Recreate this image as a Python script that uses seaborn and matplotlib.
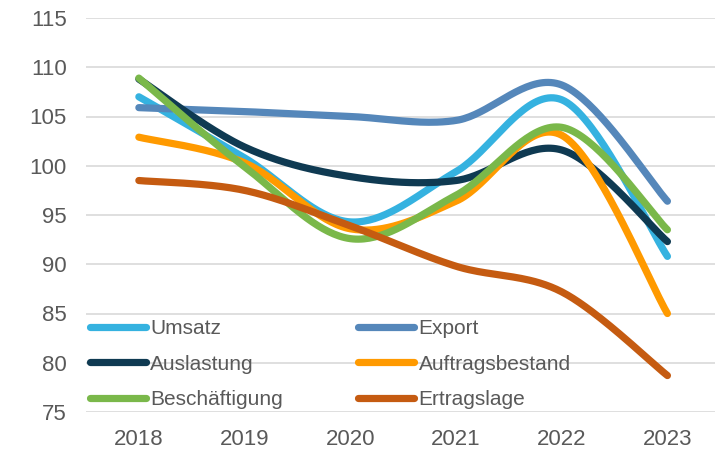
import numpy as np
import pandas as pd
import seaborn as sns
import matplotlib.pyplot as plt
from matplotlib.lines import Line2D

# Werte je Jahr (Index)
years = ['2018', '2019', '2020', '2021', '2022', '2023']
umsatz = [107.0, 100.8, 94.3, 99.4, 106.7, 90.8]
export = [105.9, 105.5, 105.0, 104.6, 108.2, 96.4]
auslastung = [108.8, 101.9, 98.9, 98.5, 101.6, 92.3]
auftragsbestand = [102.9, 100.3, 93.6, 96.4, 103.1, 85.0]
beschaeftigung = [108.9, 99.9, 92.6, 97.0, 103.9, 93.5]
ertragslage = [98.5, 97.5, 93.9, 89.8, 87.2, 78.7]

series = {
    'Umsatz': umsatz,
    'Export': export,
    'Auslastung': auslastung,
    'Auftragsbestand': auftragsbestand,
    'Beschäftigung': beschaeftigung,
    'Ertragslage': ertragslage,
}
colors = {
    'Umsatz': '#35b2e0',
    'Export': '#5587ba',
    'Auslastung': '#0f3a52',
    'Auftragsbestand': '#ff9a00',
    'Beschäftigung': '#7ab84a',
    'Ertragslage': '#c55b11',
}


def smooth(xs, ys, n=40):
    # Excel-like smoothed line (Catmull-Rom as cubic Bezier)
    p = np.column_stack([xs, ys]).astype(float)
    out = []
    for i in range(len(p) - 1):
        p0 = p[i - 1] if i > 0 else p[i]
        p1, p2 = p[i], p[i + 1]
        p3 = p[i + 2] if i + 2 < len(p) else p[i + 1]
        c1 = p1 + (p2 - p0) / 6
        c2 = p2 - (p3 - p1) / 6
        t = np.linspace(0, 1, n)[:, None]
        seg = ((1 - t) ** 3) * p1 + 3 * ((1 - t) ** 2) * t * c1 + 3 * (1 - t) * t ** 2 * c2 + t ** 3 * p2
        out.append(seg if i == 0 else seg[1:])
    return np.vstack(out)


rows = []
for name, vals in series.items():
    curve = smooth(np.arange(len(years)), vals)
    for k, (x, y) in enumerate(curve):
        rows.append({'x': x, 'value': y, 'series': name, 'k': k})
df = pd.DataFrame(rows)

sns.set_style('white')
plt.rcParams['font.family'] = ['Liberation Sans', 'DejaVu Sans']

fig = plt.figure(figsize=(7.15, 4.54), dpi=100)
ax = fig.add_axes([86 / 715, 42 / 454, 629 / 715, 394 / 454])

sns.lineplot(data=df, x='x', y='value', hue='series', palette=colors, sort=False,
             estimator=None, units='series', linewidth=5.2, legend=False, ax=ax)
for ln in ax.get_lines():
    ln.set_solid_capstyle('round')
    ln.set_solid_joinstyle('round')

ax.set_xlim(-0.5, 5.45)
ax.set_ylim(75, 115)
ax.set_yticks(range(75, 116, 5))
ax.set_xticks(range(len(years)))
ax.set_xticklabels(years)
ax.yaxis.grid(True, color='#d9d9d9', linewidth=1.2)
ax.set_axisbelow(True)
for s in ax.spines.values():
    s.set_visible(False)
ax.tick_params(axis='both', length=0, labelsize=16, labelcolor='#595959')
ax.tick_params(axis='y', pad=14)
ax.tick_params(axis='x', pad=12)
ax.set_xlabel('')
ax.set_ylabel('')

order = ['Umsatz', 'Auslastung', 'Beschäftigung', 'Export', 'Auftragsbestand', 'Ertragslage']
handles = [Line2D([0], [0], color=colors[n], linewidth=5.2, solid_capstyle='round') for n in order]
fig.legend(handles, order, loc='upper left', bbox_to_anchor=(90 / 715, 1 - 319 / 454),
           ncol=2, frameon=False, fontsize=15, handlelength=2.7, handletextpad=0.2,
           columnspacing=3.6, labelspacing=0.8, borderpad=0, borderaxespad=0,
           labelcolor='#595959')

plt.savefig('out.png', dpi=100)
